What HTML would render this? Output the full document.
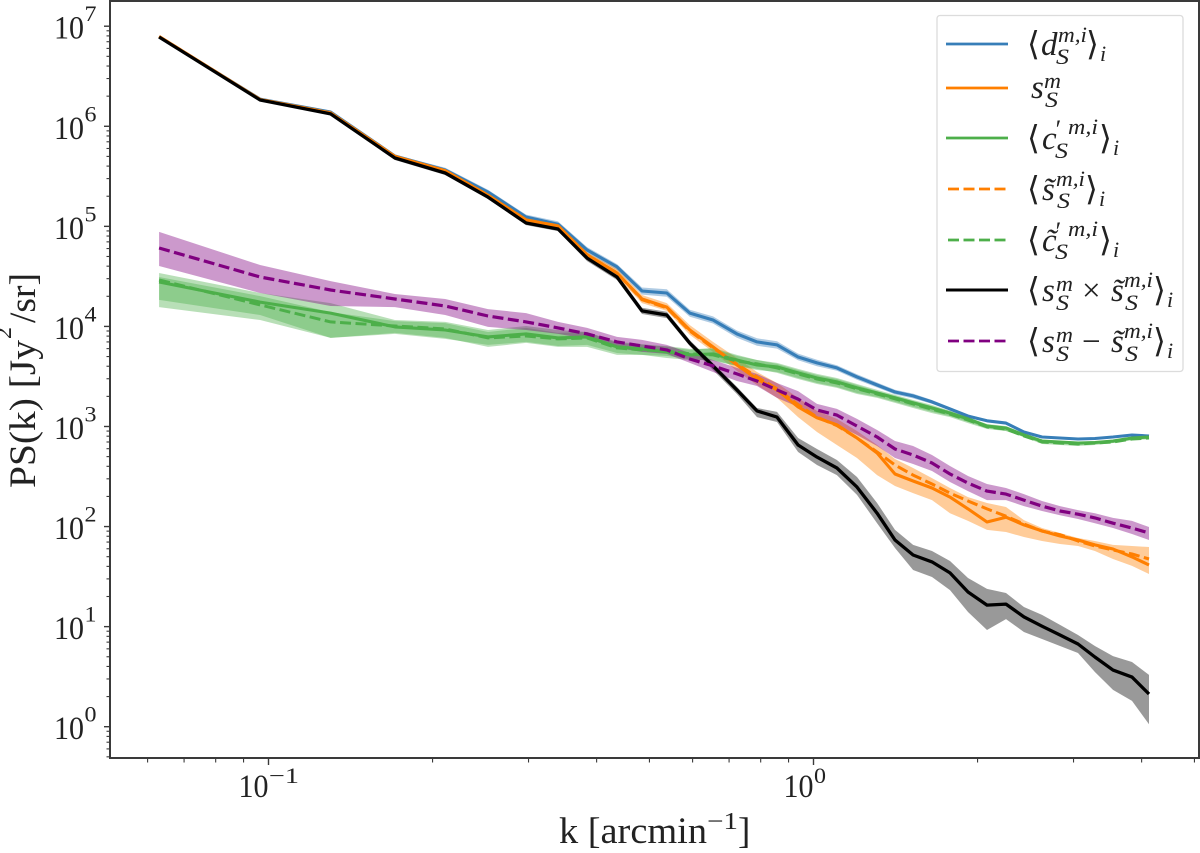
<!DOCTYPE html>
<html>
<head>
<meta charset="utf-8">
<title>Power spectrum chart</title>
<style>
html,body{margin:0;padding:0;background:#fff;}
svg{display:block;}
text{font-family:"Liberation Serif","DejaVu Serif",serif;fill:#222;}
.tick{font-size:33px;}
.sup{font-size:22px;}
.lab{font-size:37px;}
.lg{font-size:33px;}
.lgs{font-size:22px;font-style:italic;}
.it{font-style:italic;}
</style>
</head>
<body>
<svg id="chart" xmlns="http://www.w3.org/2000/svg" width="1200" height="853" viewBox="0 0 1200 853">
  <rect x="0" y="0" width="1200" height="853" fill="#fff"/>
  <g id="bands"></g>
  <g id="lines"></g>
  <g id="axes"></g>

  <text class="lab">
    <tspan x="559" y="843" textLength="148" lengthAdjust="spacingAndGlyphs">k [arcmin</tspan><tspan x="707" y="829" font-size="24" textLength="31" lengthAdjust="spacingAndGlyphs">−1</tspan><tspan x="738" y="843">]</tspan>
  </text>
  <g transform="translate(35,488) rotate(-90)">
    <text class="lab" x="0" y="0" textLength="148" lengthAdjust="spacingAndGlyphs">PS(k) [Jy</text>
    <text x="149" y="-24" font-size="24">2</text>
    <text class="lab" x="165" y="0" textLength="50" lengthAdjust="spacingAndGlyphs">/sr]</text>
  </g>

  <g>
    <rect x="937" y="15.5" width="246" height="356" rx="3" fill="#fff" fill-opacity="0.8" stroke="#dcdcdc" stroke-width="1.3"/>
    <g>
      <line x1="946" x2="1008" y1="44" y2="44" stroke="#377eb8" stroke-width="2.8"/>
      <text class="lg" x="1027" y="55">⟨</text><text class="lg it" x="1041" y="55">d</text>
      <text class="lgs" x="1058" y="42" textLength="29" lengthAdjust="spacingAndGlyphs">m,i</text><text class="lgs" x="1056" y="64" textLength="13" lengthAdjust="spacingAndGlyphs">S</text>
      <text class="lg" x="1086" y="55">⟩</text><text class="lgs" x="1100" y="61">i</text>
    </g>
    <g>
      <line x1="946" x2="1008" y1="88" y2="88" stroke="#ff7f00" stroke-width="2.8"/>
      <text class="lg it" x="1031" y="98">s</text>
      <text class="lgs" x="1044" y="88" textLength="17" lengthAdjust="spacingAndGlyphs">m</text><text class="lgs" x="1045" y="107" textLength="13" lengthAdjust="spacingAndGlyphs">S</text>
    </g>
    <g>
      <line x1="946" x2="1008" y1="138" y2="138" stroke="#4daf4a" stroke-width="2.8"/>
      <text class="lg" x="1027" y="149">⟨</text><text class="lg it" x="1042" y="149">c</text>
      <text class="lgs" x="1054" y="138" style="font-size:26px">′</text>
      <text class="lgs" x="1068" y="134" textLength="30" lengthAdjust="spacingAndGlyphs">m,i</text><text class="lgs" x="1055" y="158" textLength="13" lengthAdjust="spacingAndGlyphs">S</text>
      <text class="lg" x="1099" y="149">⟩</text><text class="lgs" x="1113" y="155">i</text>
    </g>
    <g>
      <line x1="948" x2="1006" y1="189" y2="189" stroke="#ff7f00" stroke-width="2.8" stroke-dasharray="11 4.5"/>
      <text class="lg" x="1027" y="200">⟨</text><text class="lg it" x="1042" y="200">s̃</text>
      <text class="lgs" x="1056" y="186" textLength="29" lengthAdjust="spacingAndGlyphs">m,i</text><text class="lgs" x="1057" y="208" textLength="13" lengthAdjust="spacingAndGlyphs">S</text>
      <text class="lg" x="1085" y="200">⟩</text><text class="lgs" x="1099" y="206">i</text>
    </g>
    <g>
      <line x1="948" x2="1006" y1="240" y2="240" stroke="#4daf4a" stroke-width="2.8" stroke-dasharray="11 4.5"/>
      <text class="lg" x="1027" y="251">⟨</text><text class="lg it" x="1042" y="251">c̃</text>
      <text class="lgs" x="1054" y="240" style="font-size:26px">′</text>
      <text class="lgs" x="1068" y="236" textLength="30" lengthAdjust="spacingAndGlyphs">m,i</text><text class="lgs" x="1055" y="259" textLength="13" lengthAdjust="spacingAndGlyphs">S</text>
      <text class="lg" x="1099" y="251">⟩</text><text class="lgs" x="1113" y="257">i</text>
    </g>
    <g>
      <line x1="946" x2="1008" y1="290" y2="290" stroke="#000" stroke-width="3"/>
      <text class="lg" x="1027" y="301">⟨</text><text class="lg it" x="1042" y="301">s</text>
      <text class="lgs" x="1056" y="291" textLength="17" lengthAdjust="spacingAndGlyphs">m</text><text class="lgs" x="1056" y="310" textLength="13" lengthAdjust="spacingAndGlyphs">S</text>
      <text class="lg" x="1082" y="301">×</text><text class="lg it" x="1111" y="301">s̃</text>
      <text class="lgs" x="1124" y="287" textLength="29" lengthAdjust="spacingAndGlyphs">m,i</text><text class="lgs" x="1125" y="310" textLength="13" lengthAdjust="spacingAndGlyphs">S</text>
      <text class="lg" x="1153" y="301">⟩</text><text class="lgs" x="1167" y="307">i</text>
    </g>
    <g>
      <line x1="948" x2="1006" y1="341" y2="341" stroke="#800080" stroke-width="2.8" stroke-dasharray="11 4.5"/>
      <text class="lg" x="1027" y="352">⟨</text><text class="lg it" x="1042" y="352">s</text>
      <text class="lgs" x="1056" y="342" textLength="17" lengthAdjust="spacingAndGlyphs">m</text><text class="lgs" x="1056" y="361" textLength="13" lengthAdjust="spacingAndGlyphs">S</text>
      <text class="lg" x="1082" y="352">−</text><text class="lg it" x="1111" y="352">s̃</text>
      <text class="lgs" x="1124" y="338" textLength="29" lengthAdjust="spacingAndGlyphs">m,i</text><text class="lgs" x="1125" y="361" textLength="13" lengthAdjust="spacingAndGlyphs">S</text>
      <text class="lg" x="1153" y="352">⟩</text><text class="lgs" x="1167" y="358">i</text>
    </g>
  </g>
</svg>
<script>
const k = [0.063,0.0965,0.13,0.1706,0.211,0.2528,0.2969,0.3398,0.3842,0.436,0.4845,0.538,0.593,0.654,0.7236,0.7876,0.857,0.937,1.015,1.104,1.202,1.308,1.411,1.523,1.65,1.78,1.921,2.081,2.255,2.433,2.626,2.833,3.057,3.284,3.545,3.841,4.127];

const dMean = [7.8e6,1.87e6,1.39e6,5.05e5,3.66e5,2.2e5,1.24e5,1.05e5,5.8e4,3.93e4,2.26e4,2.16e4,1.36e4,1.16e4,8.41e3,7.0e3,6.53e3,4.95e3,4.32e3,3.85e3,3.13e3,2.6e3,2.21e3,2.02e3,1.76e3,1.5e3,1.27e3,1.14e3,1.08e3,881,785,767,750,759,785,822,804];
const dUpper = [7.9e6,1.91e6,1.43e6,5.2e5,3.85e5,2.32e5,1.31e5,1.12e5,6.2e4,4.2e4,2.45e4,2.35e4,1.47e4,1.26e4,9.1e3,7.6e3,7.1e3,5.35e3,4.65e3,4.1e3,3.33e3,2.75e3,2.33e3,2.13e3,1.84e3,1.56e3,1.32e3,1.17e3,1.11e3,900,800,780,762,770,795,830,812];
const dLower = [7.7e6,1.83e6,1.35e6,4.9e5,3.5e5,2.1e5,1.17e5,9.8e4,5.4e4,3.65e4,2.08e4,1.98e4,1.25e4,1.07e4,7.7e3,6.4e3,6e3,4.6e3,4.0e3,3.6e3,2.93e3,2.45e3,2.09e3,1.91e3,1.68e3,1.44e3,1.22e3,1.11e3,1.05e3,862,770,754,738,748,775,814,796];

const sTrue = [7.9e6,1.85e6,1.36e6,5e5,3.6e5,2.05e5,1.16e5,1.01e5,5.2e4,3.43e4,1.88e4,1.56e4,9.2e3,6.24e3,4.12e3,2.98e3,2.32e3,1.57e3,1.22e3,1.04e3,767,543,335,285,243,197,150,111,124,104,90.4,80.5,73.4,65.5,59.7,49.7,41.3];
const sTilde = [7.9e6,1.85e6,1.36e6,5e5,3.6e5,2.05e5,1.16e5,1.01e5,5.2e4,3.43e4,1.85e4,1.53e4,9e3,6.1e3,4.2e3,3.13e3,2.38e3,1.65e3,1.24e3,1.02e3,767,556,412,327,266,216,180,150,127,106,90,83,71.8,64,58.3,53.2,47.4];
const sUpper = [7.98e6,1.87e6,1.39e6,5.05e5,3.66e5,2.1e5,1.21e5,1.05e5,5.5e4,3.76e4,2.06e4,1.71e4,1.03e4,7e3,4.84e3,3.5e3,2.72e3,1.93e3,1.43e3,1.19e3,901,653,473,385,305,243,197,172,157,116,96.8,86.3,76.9,71.8,65.5,64,62.5];
const sLower = [7.62e6,1.79e6,1.33e6,4.82e5,3.41e5,1.96e5,1.11e5,9.4e4,4.82e4,3.12e4,1.71e4,1.43e4,8.22e3,5.56e3,3.59e3,2.6e3,1.93e3,1.24e3,881,653,484,327,254,216,184,136,114,92.5,88.3,78.7,71.8,67,64,57,47.4,40.4,33.6];

const cTrue = [2.78e4,1.75e4,1.36e4,9.9e3,9.2e3,7.85e3,8.41e3,7.67e3,7.85e3,6.24e3,5.96e3,5.56e3,5.19e3,5.31e3,4.62e3,4.12e3,3.94e3,3.43e3,3.05e3,2.79e3,2.43e3,2.16e3,1.93e3,1.72e3,1.53e3,1.36e3,1.19e3,1.01e3,966,822,716,700,684,692,716,767,785];
const cTrueUpper = [3.42e4,2.16e4,1.71e4,1.16e4,1.11e4,9.2e3,1.01e4,9.2e3,8.8e3,7e3,6.68e3,6.24e3,5.82e3,6.1e3,5.19e3,4.62e3,4.32e3,3.76e3,3.35e3,3.05e3,2.66e3,2.32e3,2.07e3,1.84e3,1.64e3,1.43e3,1.24e3,1.06e3,1.01e3,861,733,716,700,716,733,785,804];
const cTrueLower = [1.84e4,1.3e4,7.67e3,8.41e3,7.5e3,6.53e3,7e3,6.38e3,6.53e3,5.43e3,5.19e3,4.84e3,4.62e3,4.62e3,4.03e3,3.67e3,3.5e3,3.05e3,2.72e3,2.48e3,2.16e3,1.97e3,1.76e3,1.57e3,1.4e3,1.27e3,1.11e3,966,901,785,684,668,653,668,684,733,750];

const cTilde = [2.91e4,1.64e4,1.11e4,1.01e4,9.44e3,7.67e3,8.03e3,7.5e3,7.67e3,6.1e3,5.82e3,5.68e3,5.31e3,5.19e3,4.51e3,4.22e3,3.85e3,3.35e3,2.98e3,2.72e3,2.38e3,2.11e3,1.89e3,1.68e3,1.49e3,1.33e3,1.16e3,990,944,805,700,684,668,684,700,750,767];
const cTildeUpper = [3.12e4,2.01e4,1.39e4,1.13e4,1.08e4,8.8e3,9.66e3,8.61e3,8.8e3,6.84e3,6.53e3,6.38e3,5.96e3,5.96e3,5.07e3,4.62e3,4.22e3,3.67e3,3.27e3,2.98e3,2.6e3,2.26e3,2.02e3,1.8e3,1.6e3,1.43e3,1.22e3,1.04e3,990,841,733,716,700,700,716,767,785];
const cTildeLower = [1.56e4,1.16e4,7.67e3,8.61e3,7.67e3,6.24e3,6.84e3,6.24e3,6.24e3,5.19e3,5.19e3,5.07e3,4.73e3,4.52e3,4.03e3,3.76e3,3.43e3,2.98e3,2.66e3,2.43e3,2.11e3,1.93e3,1.72e3,1.53e3,1.36e3,1.24e3,1.08e3,944,901,785,668,653,638,653,684,733,750];

const product = [7.8e6,1.83e6,1.33e6,4.82e5,3.41e5,1.96e5,1.08e5,9.4e4,4.82e4,3.12e4,1.43e4,1.3e4,6.8e3,4.03e3,2.32e3,1.43e3,1.24e3,653,495,385,248,136,73.4,52,44.3,34.4,22.2,16.4,16.8,12.5,10.1,8.25,6.7,4.97,3.68,3.13,2.12];
const productUpper = [7.98e6,1.87e6,1.36e6,5.05e5,3.6e5,2.05e5,1.14e5,1e5,5.2e4,3.35e4,1.54e4,1.4e4,7.3e3,4.3e3,2.5e3,1.53e3,1.4e3,767,596,462,313,172,92.5,65.5,57,45.3,30.6,23.8,21.7,15.7,13.1,10.4,8.25,6.4,5.08,4.43,3.29];
const productLower = [7.62e6,1.79e6,1.3e6,4.6e5,3.26e5,1.87e5,1.03e5,8.97e4,4.5e4,2.91e4,1.33e4,1.21e4,6.37e3,3.67e3,2.11e3,1.24e3,1.11e3,556,412,327,207,108,61,36.8,31.3,23.2,14,9.25,11.9,8.83,7.52,6.4,5.45,3.52,2.33,1.81,1.06];

const difference = [6.08e4,3.12e4,2.31e4,1.88e4,1.6e4,1.27e4,1.11e4,9.66e3,8.41e3,7e3,6.38e3,5.82e3,4.73e3,4.03e3,3.35e3,2.85e3,2.32e3,1.88e3,1.46e3,1.3e3,1.01e3,785,596,519,432,335,272,226,211,184,160,143,133,122,108,96.8,86.3];
const differenceUpper = [8.8e4,4.11e4,2.84e4,2.11e4,1.88e4,1.49e4,1.36e4,1.11e4,9.66e3,7.85e3,7.33e3,6.53e3,5.43e3,4.62e3,3.85e3,3.35e3,2.72e3,2.26e3,1.68e3,1.5e3,1.19e3,923,716,638,519,403,320,266,243,211,180,160,146,136,122,114,99];
const differenceLower = [4.02e4,2.16e4,1.6e4,1.56e4,1.3e4,9.9e3,9.2e3,8.41e3,7.5e3,6.1e3,5.56e3,5.31e3,4.32e3,3.5e3,2.85e3,2.54e3,1.93e3,1.57e3,1.19e3,1.04e3,822,638,484,422,359,279,226,184,184,160,143,130,119,108,96.8,84.3,73.4];

const xMajorTicks = [0.1,1];
const xMajorLabels = ["10","10"];
const xMajorExponents = ["−1","0"];
const xMinorTicks = [0.06,0.07,0.08,0.09,0.2,0.3,0.4,0.5,0.6,0.7,0.8,0.9,2,3,4,5];
const yMajorTicks = [1,10,100,1000,10000,100000,1000000,10000000];
const yMajorExponents = ["0","1","2","3","4","5","6","7"];
const yMinorBases = [2,3,4,5,6,7,8,9];
const yMinorDecades = [0.1,1,10,100,1000,10000,100000,1000000];

const NS = 'http://www.w3.org/2000/svg';
function xScale(v){ return 268.5 + 545 * (Math.log10(v) + 1); }
function yScale(v){ return 726.7 - 100.07 * Math.log10(v); }
function pathFrom(xs, ys){
  return xs.map(function(v,i){ return (i ? 'L' : 'M') + xScale(v).toFixed(1) + ' ' + yScale(ys[i]).toFixed(1); }).join(' ');
}
function addBand(name, upper, lower, color, opacity){
  const p = document.createElementNS(NS,'path');
  const rev = k.slice().reverse().map(function(v,i){ return 'L' + xScale(v).toFixed(1) + ' ' + yScale(lower[lower.length-1-i]).toFixed(1); }).join(' ');
  p.setAttribute('d', pathFrom(k, upper) + ' ' + rev + ' Z');
  p.setAttribute('fill', color);
  p.setAttribute('fill-opacity', opacity);
  
  
  document.getElementById('bands').appendChild(p);
}
function addLine(name, values, color, width, dash){
  const p = document.createElementNS(NS,'path');
  p.setAttribute('d', pathFrom(k, values));
  p.setAttribute('fill', 'none');
  p.setAttribute('stroke', color);
  p.setAttribute('stroke-width', width);
  p.setAttribute('stroke-linejoin', 'round');
  if (dash) p.setAttribute('stroke-dasharray', dash);
  
  
  document.getElementById('lines').appendChild(p);
}
addBand('band-d', dUpper, dLower, '#377eb8', 0.4);
addBand('band-s', sUpper, sLower, '#ff7f00', 0.4);
addBand('band-c', cTrueUpper, cTrueLower, '#4daf4a', 0.4);
addBand('band-c-tilde', cTildeUpper, cTildeLower, '#4daf4a', 0.4);
addBand('band-product', productUpper, productLower, '#000000', 0.4);
addBand('band-difference', differenceUpper, differenceLower, '#800080', 0.4);

addLine('line-d', dMean, '#377eb8', 3.1);
addLine('line-s', sTrue, '#ff7f00', 3.1);
addLine('line-c', cTrue, '#4daf4a', 3.1);
addLine('line-s-tilde', sTilde, '#ff7f00', 3, '11 4.5');
addLine('line-c-tilde', cTilde, '#4daf4a', 3, '11 4.5');
addLine('line-product', product, '#000000', 3.3);
addLine('line-difference', difference, '#800080', 3.2, '11 4.5');

const axes = document.getElementById('axes');
function addSeg(name, x1, y1, x2, y2, w){
  const l = document.createElementNS(NS,'line');
  l.setAttribute('x1', x1); l.setAttribute('y1', y1);
  l.setAttribute('x2', x2); l.setAttribute('y2', y2);
  l.setAttribute('stroke', '#3a3a3a');
  l.setAttribute('stroke-width', w);
  
  
  axes.appendChild(l);
}
function addText(name, txt, x, y, cls, fitWidth){
  const t = document.createElementNS(NS,'text');
  t.setAttribute('x', x); t.setAttribute('y', y);
  t.setAttribute('class', cls);
  if (fitWidth) { t.setAttribute('textLength', fitWidth); t.setAttribute('lengthAdjust', 'spacingAndGlyphs'); }
  t.textContent = txt;
  
  
  axes.appendChild(t);
}
addSeg('left-spine', 110, 0.5, 110, 758.5, 2);
addSeg('bottom-spine', 109, 758, 1200, 758, 2);
addSeg('top-spine', 109, 1, 1200, 1, 2);
addSeg('right-spine', 1199, 0.5, 1199, 758.5, 2);

xMajorTicks.forEach(function(v,i){
  const x = xScale(v);
  addSeg('x-major-tick', x, 758, x, 765, 1.4);
  addText('x-tick-label', xMajorLabels[i], x - 30, 797, 'tick', 30);
  addText('x-tick-exponent', xMajorExponents[i], x + 0.5, 783, 'sup', xMajorExponents[i].length > 1 ? 30 : 12);
});
xMinorTicks.forEach(function(v){
  const x = xScale(v);
  addSeg('x-minor-tick', x, 758, x, 762.5, 1.1);
});
yMajorTicks.forEach(function(v,i){
  const y = yScale(v);
  addSeg('y-major-tick', 104, y, 110, y, 1.4);
  addText('y-tick-label', '10', 54, y + 12.5, 'tick', 30);
  addText('y-tick-exponent', yMajorExponents[i], 84.5, y - 5, 'sup', 12);
});
yMinorDecades.forEach(function(d){
  yMinorBases.forEach(function(b){
    const v = b * d;
    const y = yScale(v);
    if (y <= 758 && y >= 1) addSeg('y-minor-tick', 106.5, y, 110, y, 1.1);
  });
});
</script>
</body>
</html>
